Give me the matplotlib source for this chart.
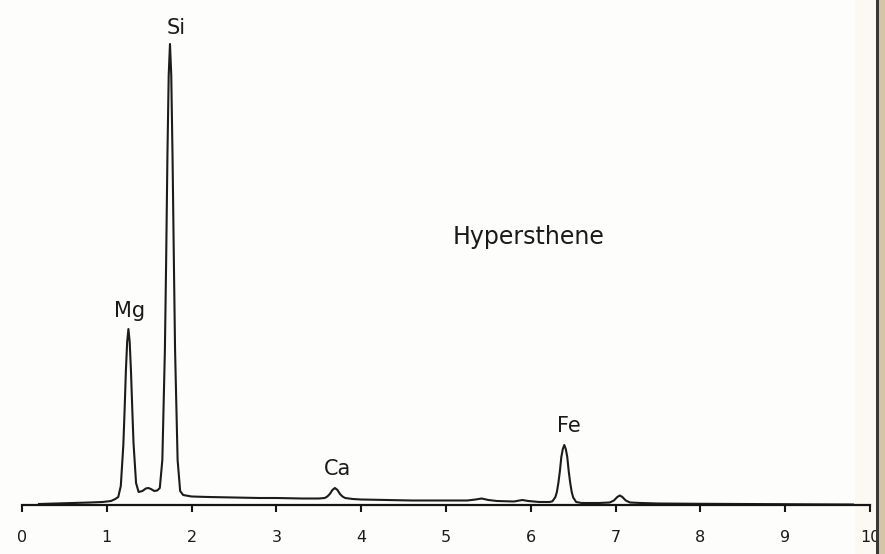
import matplotlib
matplotlib.use("Agg")
import matplotlib.pyplot as plt
from matplotlib.patches import Rectangle

# EDS spectrum of hypersthene: energy (keV) and intensity (arbitrary counts)
energy = [
    0.20, 0.40, 0.60, 0.80, 0.95, 1.05, 1.10, 1.135, 1.165, 1.195, 1.21,
    1.225, 1.24, 1.255, 1.27, 1.285, 1.30, 1.315, 1.345, 1.375, 1.42,
    1.46, 1.49, 1.52, 1.56, 1.595, 1.625, 1.655, 1.685, 1.70, 1.715,
    1.73, 1.745, 1.76, 1.775, 1.79, 1.805, 1.835, 1.865, 1.90, 2.00,
    2.20, 2.50, 2.80, 3.00, 3.30, 3.50, 3.57, 3.60, 3.63, 3.66, 3.69,
    3.72, 3.75, 3.78, 3.81, 3.90, 4.00, 4.30, 4.60, 5.00, 5.25, 5.35,
    5.42, 5.50, 5.60, 5.80, 5.90, 5.97, 6.10, 6.22, 6.255, 6.29, 6.3075,
    6.325, 6.3425, 6.36, 6.3775, 6.395, 6.4125, 6.43, 6.4475, 6.465,
    6.4825, 6.50, 6.535, 6.60, 6.80, 6.93, 6.98, 7.02, 7.05, 7.08,
    7.12, 7.17, 7.30, 7.50, 8.00, 8.50, 9.00, 9.50, 9.80,
]
counts = [
    1.0, 1.5, 2.0, 2.5, 3.0, 4.0, 6.0, 8.0, 19.0, 60.0, 95.0,
    134.0, 163.0, 176.0, 163.0, 134.0, 97.0, 62.0, 22.0, 13.0, 14.0,
    16.5, 17.0, 16.0, 14.0, 14.5, 17.0, 45.0, 155.0, 245.0, 350.0,
    430.0, 461.0, 430.0, 350.0, 250.0, 155.0, 45.0, 14.0, 10.0, 8.5,
    8.0, 7.5, 7.0, 7.0, 6.5, 6.5, 7.0, 8.5, 11.0, 15.0, 17.0,
    15.0, 11.0, 8.5, 7.0, 6.0, 5.5, 5.0, 4.5, 4.5, 4.5, 5.5,
    6.5, 5.0, 4.0, 3.5, 5.0, 4.0, 3.0, 3.0, 3.7, 8.0, 13.0,
    22.0, 33.5, 48.0, 56.0, 60.0, 56.0, 48.0, 33.5, 22.0,
    13.0, 7.5, 3.0, 2.0, 2.0, 2.5, 4.5, 8.0, 9.5, 8.0,
    4.5, 2.5, 2.0, 1.5, 1.2, 1.0, 0.8, 0.6, 0.5,
]

# Element labels: (text, energy, height)
peak_labels = ["Si", "Mg", "Ca", "Fe"]
label_energy = [1.82, 1.27, 3.72, 6.45]
label_height = [471, 188, 30, 73]

mineral = "Hypersthene"
tick_values = list(range(0, 11))

W, H = 885, 554
fig = plt.figure(figsize=(W / 100, H / 100), dpi=100)
fig.patch.set_facecolor("#fdfdfb")

ax = fig.add_axes([22 / W, (H - 505) / H, (870 - 22) / W, 505 / H])
ax.set_facecolor("none")
ax.plot(energy, counts, color="#1c1c1c", lw=1.5, solid_joinstyle="round")

ax.set_xlim(0, 10)
ax.set_ylim(0, 505)
for side in ("left", "right", "top"):
    ax.spines[side].set_visible(False)
ax.spines["bottom"].set_linewidth(1.6)
ax.spines["bottom"].set_color("#151515")
ax.set_yticks([])
ax.set_xticks(tick_values)
ax.set_xticklabels([str(t) for t in tick_values])
ax.tick_params(axis="x", direction="out", length=5, width=1.5,
               color="#151515", pad=13, labelsize=11.5, labelcolor="#1a1a1a")

for txt, xe, yh in zip(peak_labels, label_energy, label_height):
    ax.text(xe, yh, txt, ha="center", va="baseline", fontsize=15,
            color="#1a1a1a")

ax.text(5.97, 261, mineral, ha="center", va="baseline", fontsize=17,
        color="#1a1a1a")

# scanned page edge on the right
fig.patches.append(Rectangle((855 / W, 0), 21 / W, 1, transform=fig.transFigure,
                             facecolor="#fbf9f1", edgecolor="none", zorder=-1))
fig.patches.append(Rectangle((876 / W, 0), 3 / W, 1, transform=fig.transFigure,
                             facecolor="#3b3733", edgecolor="none"))
fig.patches.append(Rectangle((879 / W, 0), 6 / W, 1, transform=fig.transFigure,
                             facecolor="#d4c6a2", edgecolor="none"))

fig.savefig("out.png", dpi=100, facecolor=fig.get_facecolor())
